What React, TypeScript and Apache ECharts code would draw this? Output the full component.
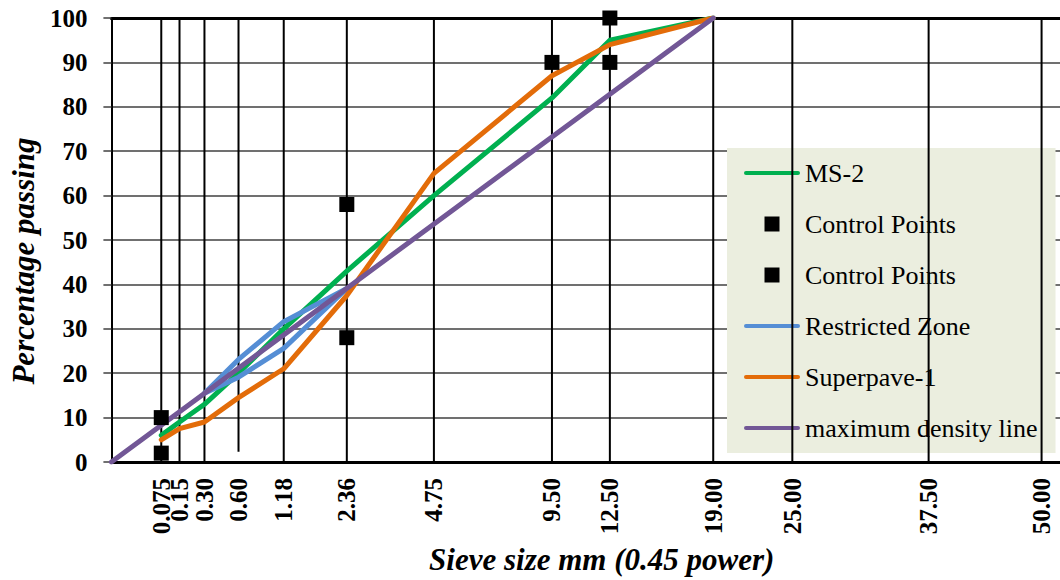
import React, { useEffect, useRef } from 'react';
import * as echarts from 'echarts';

const sieveSizes = [0.075, 0.15, 0.3, 0.6, 1.18, 2.36, 4.75, 9.5, 12.5, 19, 25, 37.5, 50];
const sieveLabels = ['0.075', '0.15', '0.30', '0.60', '1.18', '2.36', '4.75', '9.50', '12.50', '19.00', '25.00', '37.50', '50.00'];
const sieveLineBottoms = [0, 0, 0, 2.3, 0, 0, 0, 0, 0, 0, 0, 0, 0];
const sieveLineTops = [100, 100, 100, 100, 100, 100, 100, 100, 100, 100, 100, 100, 100];

const gradationSieves = [0.075, 0.15, 0.3, 0.6, 1.18, 2.36, 4.75, 9.5, 12.5, 19];
const ms2Passing = [6, 9, 13, 20, 30, 43, 60, 82, 95, 100];
const superpave1Passing = [5, 7.5, 9, 14.5, 21, 37.5, 65, 87, 94, 100];

const restrictedSieves = [0.3, 0.6, 1.18, 2.36, 1.18, 0.6, 0.3];
const restrictedPassing = [15.5, 23.1, 31.6, 39.1, 25.6, 19.1, 15.5];

const controlUpperSieves = [0.075, 2.36, 9.5, 12.5];
const controlUpperPassing = [10, 58, 90, 100];
const controlLowerSieves = [0.075, 2.36, 12.5];
const controlLowerPassing = [2, 28, 90];

const maxDensitySieves = [0, 19];
const maxDensityPassing = [0, 100];

const POWER = 0.45;
const X_MAX = 5.93;
const FONT = '"Liberation Serif", "Times New Roman", serif';

const p45 = (d: number) => Math.pow(d, POWER);
const pairs = (xs: number[], ys: number[]) => xs.map((x, i) => [p45(x), ys[i]]);

const lineIcon = 'path://M2,0 L54,0 A2,2 0 0 1 54,4 L2,4 A2,2 0 0 1 2,0 Z';
const squareIcon = 'path://M0,0 L10,0 L10,10 L0,10 Z';

export default function App() {
  const ref = useRef<HTMLDivElement>(null);

  useEffect(() => {
    if (!ref.current) return;
    const chart = echarts.init(ref.current, null, { renderer: 'svg' });
    const tickValues = sieveSizes.map(p45);
    // alternate labels over two bottom axes so that close labels are not culled
    const groupA = tickValues.filter((_, i) => i !== 1);
    const groupB = tickValues.filter((_, i) => i === 1);

    const labelFor = (v: number) => {
      let best = 0;
      let bd = Infinity;
      tickValues.forEach((t, i) => {
        const d = Math.abs(t - v);
        if (d < bd) {
          bd = d;
          best = i;
        }
      });
      return sieveLabels[best];
    };

    const labelStyle = (values: number[]) => ({
      customValues: values,
      rotate: 90,
      margin: 16,
      fontFamily: FONT,
      fontSize: 25,
      fontWeight: 'bold',
      color: '#000',
      hideOverlap: false,
      showMinLabel: true,
      showMaxLabel: true,
      formatter: labelFor,
    });

    const lineSeries = (name: string, data: number[][], color: string) => ({
      type: 'line',
      name,
      data,
      symbol: 'none',
      showSymbol: false,
      z: 6,
      lineStyle: { color, width: 5, cap: 'round', join: 'round' },
      itemStyle: { color, opacity: 1 },
      silent: true,
    });

    const scatterSeries = (name: string, data: number[][]) => ({
      type: 'scatter',
      name,
      data,
      symbol: 'rect',
      symbolSize: 15,
      itemStyle: { color: '#000', opacity: 1 },
      z: 7,
      silent: true,
    });

    chart.setOption({
      animation: false,
      grid: { left: 108, right: 0, top: 18, bottom: 118, containLabel: false },
      xAxis: [
        {
          type: 'value',
          position: 'bottom',
          min: 0,
          max: X_MAX,
          name: 'Sieve size mm (0.45 power)',
          nameLocation: 'middle',
          nameGap: 82,
          nameTextStyle: {
            fontFamily: FONT,
            fontSize: 31,
            fontWeight: 'bold',
            fontStyle: 'italic',
            color: '#000',
            padding: [0, 0, 0, 32],
          },
          axisLine: { show: true, lineStyle: { color: '#000', width: 3 } },
          axisTick: { show: false },
          splitLine: { show: false },
          axisLabel: labelStyle(groupA),
        },
        {
          type: 'value',
          position: 'top',
          min: 0,
          max: X_MAX,
          axisLine: { show: true, lineStyle: { color: '#000', width: 3 } },
          axisTick: { show: false },
          axisLabel: { show: false },
          splitLine: { show: false },
        },
        {
          type: 'value',
          position: 'bottom',
          offset: 0,
          min: 0,
          max: X_MAX,
          axisLine: { show: false },
          axisTick: { show: false },
          splitLine: { show: false },
          axisLabel: labelStyle(groupB),
        },
      ],
      yAxis: {
        type: 'value',
        min: 0,
        max: 100,
        interval: 10,
        name: 'Percentage passing',
        nameLocation: 'middle',
        nameGap: 66,
        nameTextStyle: {
          fontFamily: FONT,
          fontSize: 31,
          fontWeight: 'bold',
          fontStyle: 'italic',
          color: '#000',
          padding: [0, 42, 0, 0],
        },
        axisLine: { show: true, lineStyle: { color: '#000', width: 2 } },
        axisTick: { show: true, length: 8, lineStyle: { color: '#404040', width: 1.5 } },
        splitLine: { show: true, lineStyle: { color: '#404040', width: 1.5 } },
        axisLabel: {
          margin: 24,
          fontFamily: FONT,
          fontSize: 25,
          fontWeight: 'bold',
          color: '#000',
        },
      },
      legend: {
        orient: 'vertical',
        left: 727,
        top: 148,
        z: 4,
        padding: [12, 18, 12, 17],
        itemGap: 25,
        itemWidth: 56,
        itemHeight: 15,
        backgroundColor: '#EBEEDF',
        selectedMode: false,
        textStyle: { fontFamily: FONT, fontSize: 26, color: '#000' },
        formatter: (name: string) => (name.indexOf('Control Points') === 0 ? 'Control Points' : name),
        data: [
          { name: 'MS-2', icon: lineIcon },
          { name: 'Control Points upper', icon: squareIcon },
          { name: 'Control Points lower', icon: squareIcon },
          { name: 'Restricted Zone', icon: lineIcon },
          { name: 'Superpave-1', icon: lineIcon },
          { name: 'maximum density line', icon: lineIcon },
        ],
      },
      series: [
        {
          type: 'custom',
          name: 'sieve lines',
          z: 5,
          silent: true,
          data: sieveSizes.map((s, i) => [p45(s), sieveLineBottoms[i], sieveLineTops[i]]),
          encode: { x: 0, y: [1, 2] },
          renderItem: (params: any, api: any) => {
            const a = api.coord([api.value(0), api.value(1)]);
            const b = api.coord([api.value(0), api.value(2)]);
            return {
              type: 'line',
              shape: { x1: a[0], y1: a[1], x2: b[0], y2: b[1] },
              style: { stroke: '#000', lineWidth: 2 },
            };
          },
        },
        lineSeries('MS-2', pairs(gradationSieves, ms2Passing), '#00B050'),
        lineSeries('Restricted Zone', pairs(restrictedSieves, restrictedPassing), '#558ED5'),
        lineSeries('Superpave-1', pairs(gradationSieves, superpave1Passing), '#E36C09'),
        lineSeries('maximum density line', pairs(maxDensitySieves, maxDensityPassing), '#725796'),
        scatterSeries('Control Points upper', pairs(controlUpperSieves, controlUpperPassing)),
        scatterSeries('Control Points lower', pairs(controlLowerSieves, controlLowerPassing)),
      ],
    });

    return () => chart.dispose();
  }, []);

  return (
    <div
      ref={ref}
      style={{ position: 'absolute', left: 0, top: 0, width: 1060, height: 580, background: '#fff' }}
    />
  );
}
